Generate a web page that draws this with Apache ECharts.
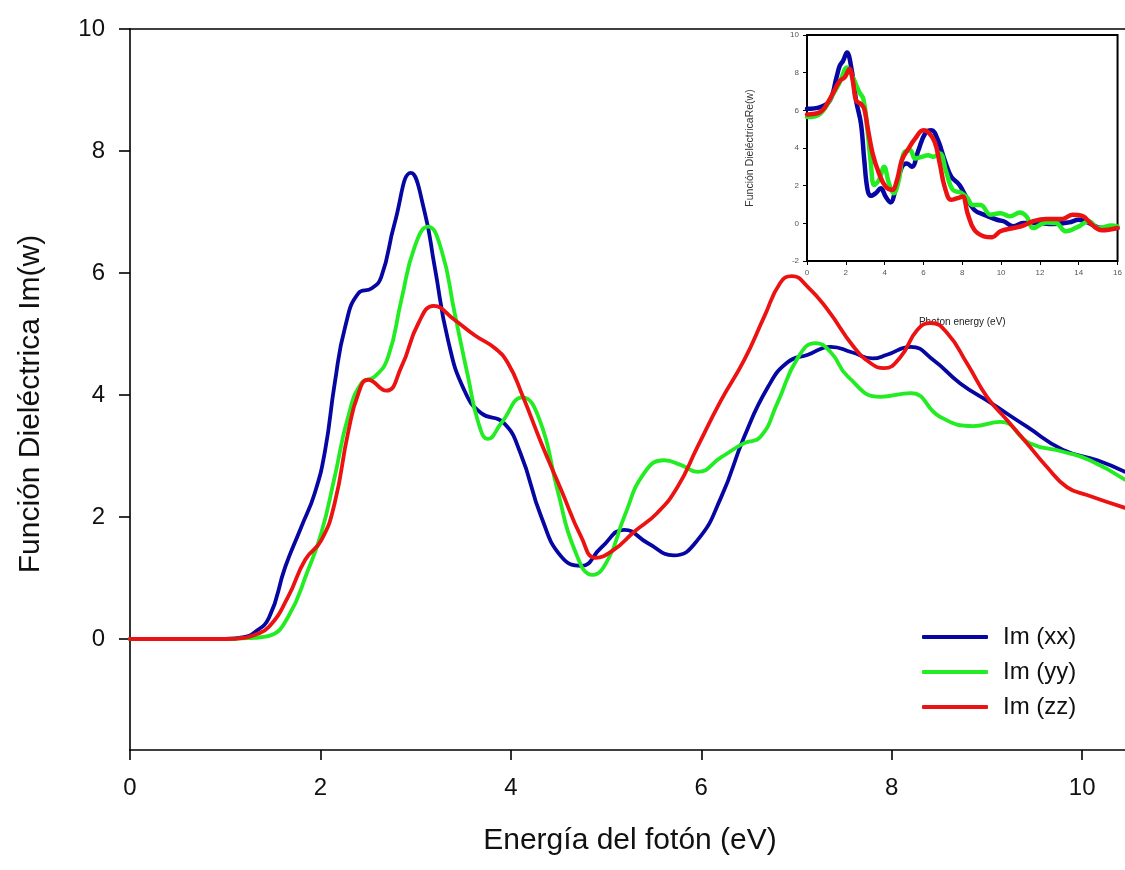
<!DOCTYPE html>
<html>
<head>
<meta charset="utf-8">
<title>Función Dieléctrica</title>
<script src="https://cdn.jsdelivr.net/npm/echarts@6/dist/echarts.min.js"></script>
<style>
  html, body { margin: 0; padding: 0; background: #fff; }
  #chart { width: 1125px; height: 870px; }
</style>
</head>
<body>
<div id="chart"></div>
<script>
// Imaginary part of the dielectric function, [energy (eV), Im(w)]
const imXX = [[0,0],[1.0,0],[1.2,0.03],[1.3,0.1],[1.46,0.35],[1.63,1.18],[1.8,1.84],[1.94,2.39],[2.05,3.1],[2.15,4.19],[2.26,5.12],[2.4,5.67],[2.54,5.75],[2.64,5.94],[2.78,6.82],[2.95,7.64],[3.09,7.03],[3.2,6.1],[3.34,4.9],[3.51,4.08],[3.69,3.7],[3.92,3.55],[4.1,3.05],[4.32,2.0],[4.53,1.35],[4.74,1.2],[4.95,1.5],[5.19,1.79],[5.44,1.57],[5.71,1.37],[5.96,1.62],[6.21,2.33],[6.45,3.31],[6.7,4.13],[6.91,4.54],[7.12,4.66],[7.36,4.79],[7.58,4.7],[7.8,4.6],[7.95,4.66],[8.2,4.79],[8.44,4.57],[8.72,4.19],[9.04,3.87],[9.42,3.48],[9.8,3.1],[10.16,2.93],[10.45,2.74]];
const imYY = [[0,0],[1.0,0],[1.3,0.02],[1.46,0.05],[1.66,0.36],[1.87,1.13],[2.01,1.74],[2.15,2.66],[2.29,3.64],[2.43,4.19],[2.57,4.3],[2.71,4.62],[2.85,5.56],[2.99,6.43],[3.13,6.76],[3.27,6.38],[3.41,5.34],[3.55,4.3],[3.66,3.54],[3.76,3.28],[3.9,3.54],[4.12,3.96],[4.3,3.6],[4.49,2.44],[4.67,1.46],[4.86,1.05],[5.02,1.3],[5.19,2.0],[5.4,2.72],[5.61,2.93],[5.79,2.85],[5.96,2.74],[6.21,2.98],[6.45,3.21],[6.62,3.31],[6.8,3.87],[7.01,4.6],[7.2,4.85],[7.36,4.7],[7.54,4.3],[7.88,3.97],[8.2,4.03],[8.51,3.64],[8.86,3.49],[9.14,3.56],[9.45,3.21],[9.8,3.07],[10.08,2.93],[10.45,2.61]];
const imZZ = [[0,0],[1.0,0],[1.2,0.02],[1.3,0.06],[1.46,0.2],[1.66,0.69],[1.84,1.3],[2.01,1.62],[2.15,2.23],[2.29,3.38],[2.4,4.03],[2.5,4.25],[2.69,4.07],[2.85,4.46],[3.03,5.18],[3.19,5.46],[3.41,5.23],[3.62,4.98],[3.83,4.77],[3.97,4.52],[4.12,4.0],[4.32,3.21],[4.53,2.44],[4.74,1.67],[4.89,1.33],[5.08,1.46],[5.29,1.75],[5.54,2.07],[5.75,2.49],[5.96,3.15],[6.21,3.92],[6.45,4.57],[6.66,5.28],[6.83,5.84],[6.95,5.95],[7.12,5.77],[7.33,5.39],[7.6,4.79],[7.78,4.52],[7.92,4.44],[8.09,4.62],[8.27,5.07],[8.41,5.18],[8.58,5.02],[8.79,4.52],[9.0,3.97],[9.21,3.59],[9.42,3.21],[9.63,2.82],[9.84,2.49],[10.05,2.36],[10.45,2.15]];

// Real part (inset), [energy (eV), Re(w)]
const reXX = [[0,6.08],[0.68,6.17],[1.18,6.52],[1.52,7.75],[1.69,8.37],[1.86,8.63],[2.06,9.07],[2.28,8.28],[2.53,6.52],[2.78,5.29],[2.95,3.36],[3.12,1.78],[3.29,1.46],[3.54,1.6],[3.8,1.86],[4.05,1.42],[4.3,1.11],[4.56,1.78],[4.89,3.0],[5.15,3.18],[5.4,3.0],[5.74,3.88],[6.08,4.76],[6.41,4.94],[6.75,4.41],[7.09,3.36],[7.43,2.48],[7.85,2.04],[8.19,1.42],[8.61,0.72],[9.11,0.46],[9.79,0.19],[10.13,0.11],[10.63,-0.16],[11.14,0.02],[11.81,0.02],[12.66,-0.04],[13.5,0.05],[14.0,0.19],[14.51,0.02],[15.19,-0.25],[16,-0.25]];
const reYY = [[0,5.64],[0.68,5.82],[1.35,6.87],[1.69,7.49],[2.06,8.28],[2.36,7.75],[2.7,6.96],[2.9,6.61],[3.12,4.94],[3.29,3.18],[3.46,2.04],[3.71,2.3],[3.97,3.0],[4.22,2.13],[4.47,1.6],[4.73,2.3],[4.98,3.71],[5.32,3.88],[5.57,3.44],[5.91,3.53],[6.24,3.62],[6.5,3.53],[6.84,3.71],[7.17,2.74],[7.51,1.78],[7.93,1.63],[8.27,1.34],[8.52,0.98],[8.95,0.98],[9.45,0.46],[9.96,0.54],[10.46,0.37],[10.97,0.58],[11.31,0.37],[11.65,-0.25],[12.32,0.05],[12.83,0.02],[13.33,-0.42],[14.01,-0.16],[14.51,0.11],[15.02,-0.25],[15.7,-0.12],[16,-0.16]];
const reZZ = [[0,5.78],[0.68,5.91],[1.18,6.61],[1.69,7.57],[1.94,7.75],[2.19,8.19],[2.36,7.57],[2.53,6.52],[2.78,6.34],[2.95,6.08],[3.12,5.11],[3.38,3.71],[3.71,2.65],[4.05,1.95],[4.39,1.78],[4.64,2.3],[4.89,3.36],[5.23,3.97],[5.57,4.5],[5.99,4.94],[6.24,4.85],[6.58,4.32],[6.84,3.18],[7.09,1.95],[7.43,1.25],[7.76,1.34],[8.02,1.42],[8.27,0.54],[8.61,-0.33],[9.11,-0.69],[9.54,-0.74],[9.96,-0.42],[10.63,-0.25],[11.14,-0.12],[11.65,0.11],[12.32,0.23],[13.16,0.23],[13.67,0.46],[14.18,0.4],[14.68,-0.07],[15.19,-0.37],[16,-0.25]];

const mainTicksX = [0, 2, 4, 6, 8, 10];
const mainTicksY = [0, 2, 4, 6, 8, 10];

const seriesNames = ['Im (xx)', 'Im (yy)', 'Im (zz)'];
const colors = ['#0606a2', '#22ec22', '#ec1212'];

const FONT = '"Liberation Sans", Arial, sans-serif';
const chart = echarts.init(document.getElementById('chart'), null, { renderer: 'canvas' });

function mainLine(name, data, color) {
  return {
    name, type: 'line', data, xAxisIndex: 0, yAxisIndex: 0,
    showSymbol: false, symbol: 'none', smooth: 0.5, clip: true,
    lineStyle: { color, width: 3.8, cap: 'round', join: 'round' },
    itemStyle: { color }, z: 3
  };
}
function insetLine(name, data, color) {
  return {
    name, type: 'line', data, xAxisIndex: 2, yAxisIndex: 1,
    showSymbol: false, symbol: 'none', smooth: 0.4, clip: true,
    lineStyle: { color, width: 4.5, cap: 'round', join: 'round' },
    itemStyle: { color }, z: 5
  };
}

const axisLineStyle = { color: '#000', width: 1.6 };

chart.setOption({
  backgroundColor: '#fff',
  animation: false,
  textStyle: { fontFamily: FONT },
  grid: [
    { left: 130, top: 29, right: 0, bottom: 120 },
    { left: 807, top: 35, width: 316, height: 226, show: true,
      backgroundColor: '#fff', borderColor: '#000', borderWidth: 2, z: 4 }
  ],
  xAxis: [
    { type: 'value', gridIndex: 0, min: 0, max: 10.45, position: 'bottom',
      axisLine: { show: true, onZero: false, lineStyle: axisLineStyle },
      axisTick: { show: true, length: 10, lineStyle: axisLineStyle, customValues: mainTicksX },
      axisLabel: { fontSize: 24, color: '#111', margin: 26, customValues: mainTicksX, fontFamily: FONT },
      splitLine: { show: false } },
    { type: 'value', gridIndex: 0, min: 0, max: 10.45, position: 'top',
      axisLine: { show: true, onZero: false, lineStyle: axisLineStyle },
      axisTick: { show: false }, axisLabel: { show: false }, splitLine: { show: false } },
    { type: 'value', gridIndex: 1, min: 0, max: 16, interval: 2, position: 'bottom',
      name: 'Photon energy (eV)', nameLocation: 'middle', nameGap: 56,
      nameTextStyle: { fontSize: 10, color: '#222', fontFamily: FONT },
      axisLine: { show: false, onZero: false },
      axisTick: { show: true, length: 4, lineStyle: { color: '#000', width: 1 } },
      axisLabel: { fontSize: 8, color: '#555', margin: 8, fontFamily: FONT },
      splitLine: { show: false } }
  ],
  yAxis: [
    { type: 'value', gridIndex: 0, min: -1.82, max: 10,
      axisLine: { show: true, onZero: false, lineStyle: axisLineStyle },
      axisTick: { show: true, length: 11, lineStyle: axisLineStyle, customValues: mainTicksY },
      axisLabel: { fontSize: 24, color: '#111', margin: 25, customValues: mainTicksY, fontFamily: FONT },
      splitLine: { show: false } },
    { type: 'value', gridIndex: 1, min: -2, max: 10, interval: 2,
      axisLine: { show: false, onZero: false },
      axisTick: { show: true, length: 4, lineStyle: { color: '#000', width: 1 } },
      axisLabel: { fontSize: 8, color: '#555', margin: 8, fontFamily: FONT },
      splitLine: { show: false } }
  ],
  legend: {
    data: seriesNames, orient: 'vertical', left: 917, top: 619,
    itemWidth: 66, itemHeight: 4, itemGap: 9, icon: 'roundRect',
    textStyle: { fontSize: 24, color: '#111', lineHeight: 26, padding: [0, 0, 0, 10], fontFamily: FONT },
    selectedMode: false
  },
  graphic: [
    { type: 'text', x: 31, y: 404, rotation: Math.PI / 2,
      style: { text: 'Función Dieléctrica Im(w)', font: '30px ' + FONT, fill: '#111',
               textAlign: 'center', textVerticalAlign: 'middle' } },
    { type: 'text', x: 630, y: 841,
      style: { text: 'Energía del fotón (eV)', font: '30px ' + FONT, fill: '#111',
               textAlign: 'center', textVerticalAlign: 'middle' } },
    { type: 'text', x: 750, y: 148, rotation: Math.PI / 2, z: 10,
      style: { text: 'Función DieléctricaRe(w)', font: '10.5px ' + FONT, fill: '#333',
               textAlign: 'center', textVerticalAlign: 'middle' } }
  ],
  series: [
    mainLine(seriesNames[0], imXX, colors[0]),
    mainLine(seriesNames[1], imYY, colors[1]),
    mainLine(seriesNames[2], imZZ, colors[2]),
    insetLine('Re (xx)', reXX, colors[0]),
    insetLine('Re (yy)', reYY, colors[1]),
    insetLine('Re (zz)', reZZ, colors[2])
  ]
});
</script>
</body>
</html>
